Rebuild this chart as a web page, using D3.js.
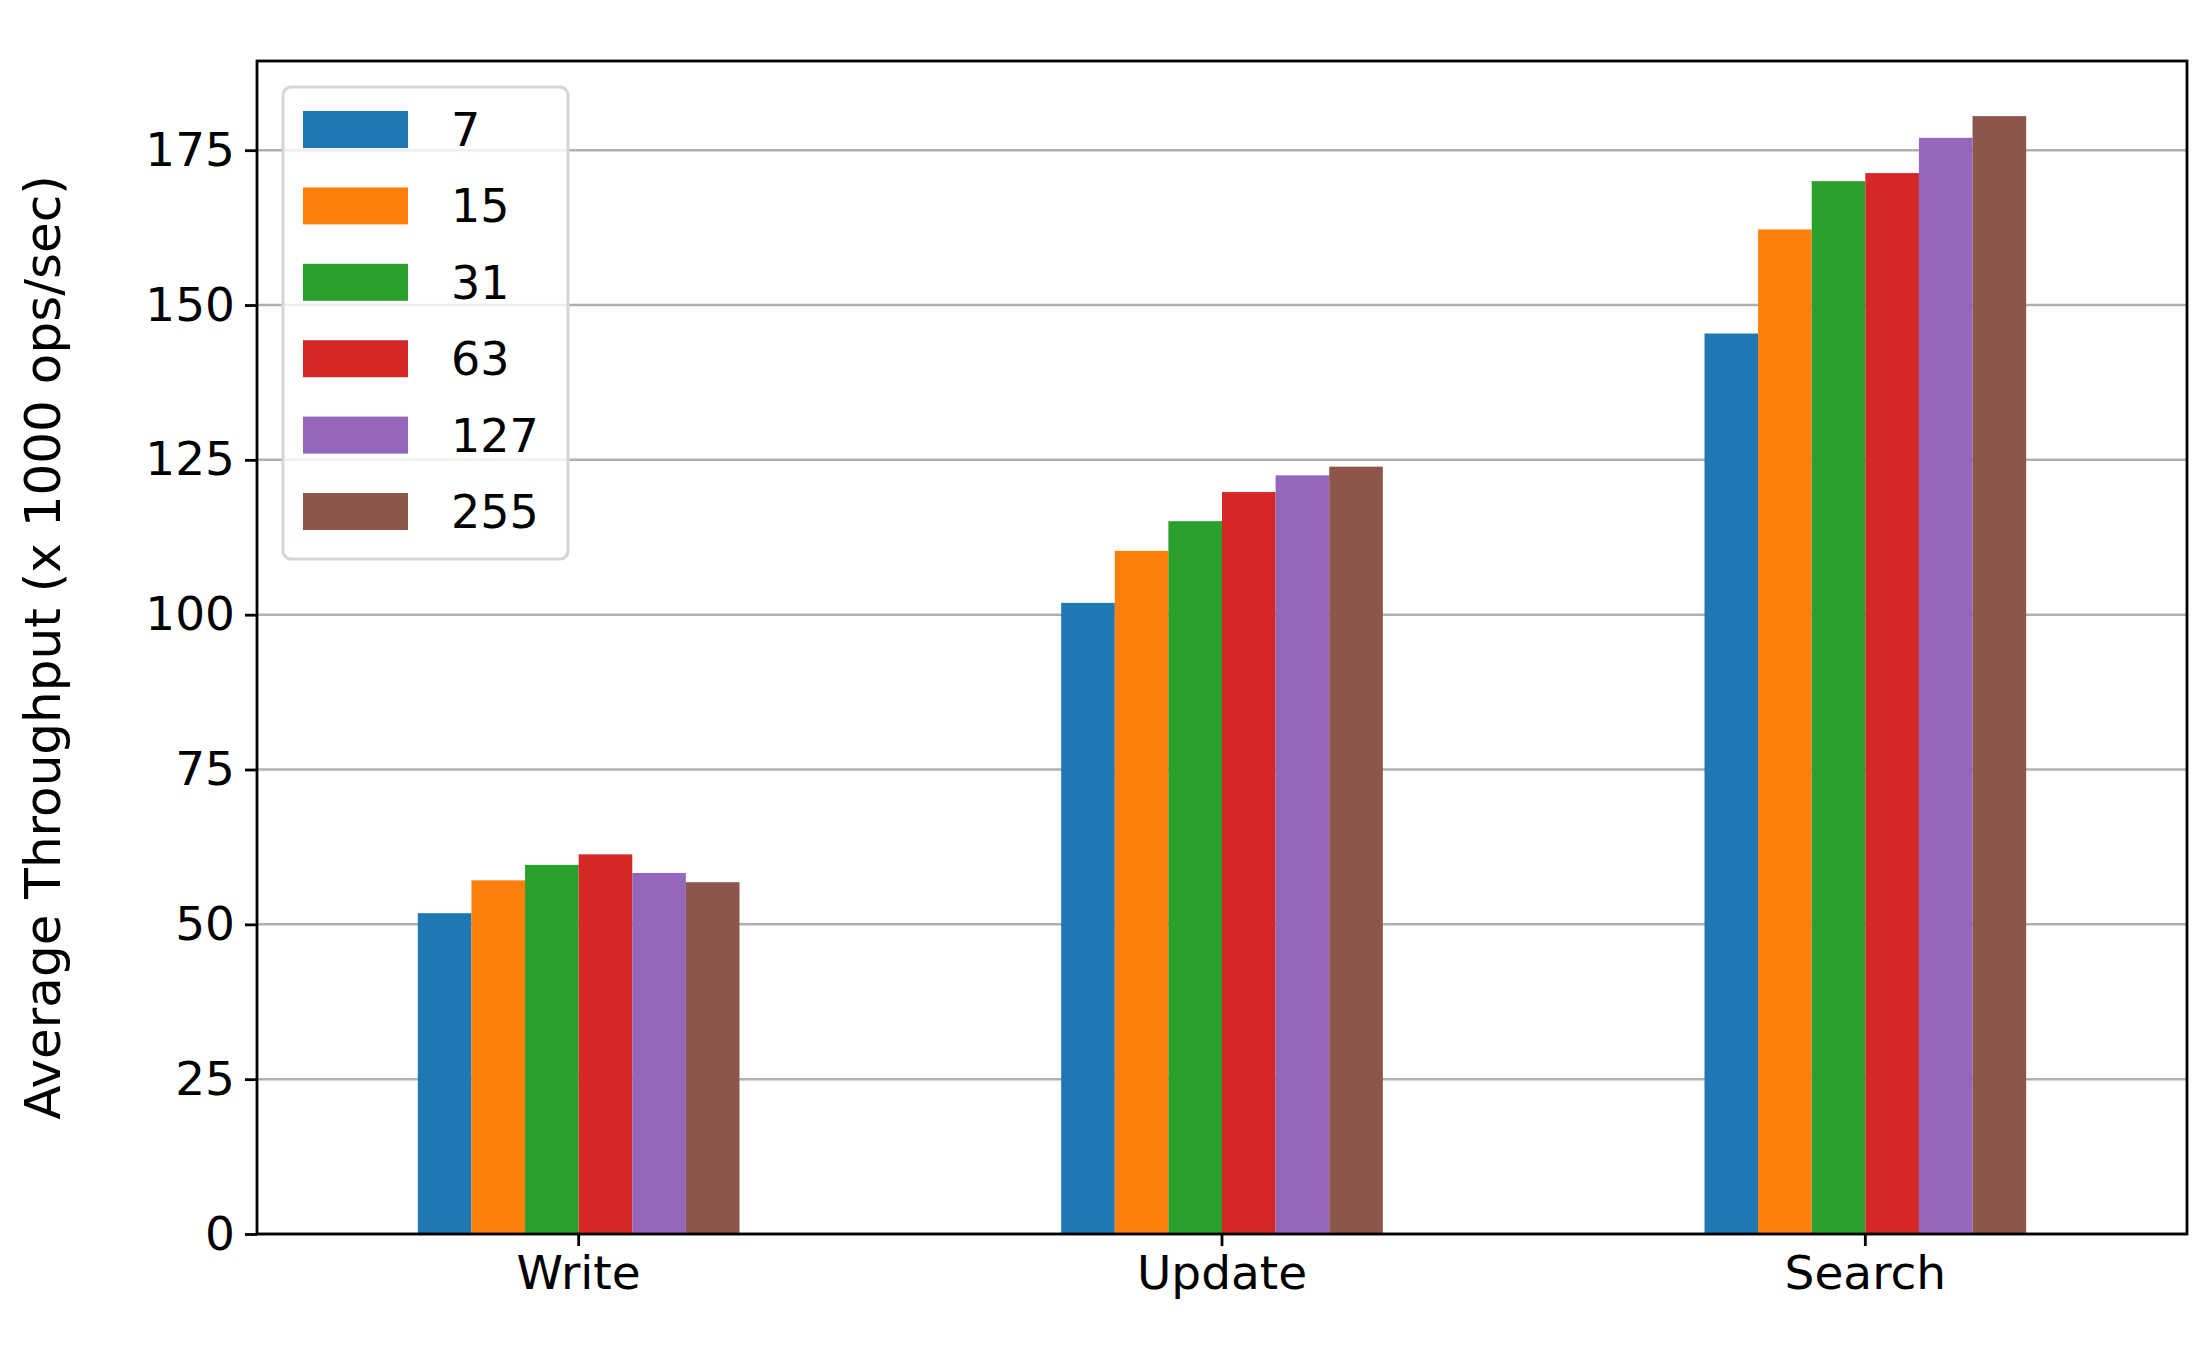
<!DOCTYPE html>
<html><head><meta charset="utf-8">
<script src="https://d3js.org/d3.v7.min.js"></script>
<style>body{margin:0;background:#fff}text{font-family:"DejaVu Sans",sans-serif}</style>
</head><body><svg></svg>
<script>
//data
var categories = ['Write', 'Update', 'Search'];
var seriesNames = ['7', '15', '31', '63', '127', '255'];
var colors = ['#1f77b4', '#ff7f0e', '#2ca02c', '#d62728', '#9467bd', '#8c564b'];
var values7 = [51.8, 101.9, 145.4];
var values15 = [57.1, 110.3, 162.2];
var values31 = [59.6, 115.1, 170.0];
var values63 = [61.3, 119.8, 171.3];
var values127 = [58.3, 122.5, 177.0];
var values255 = [56.8, 123.9, 180.5];
var series = [values7, values15, values31, values63, values127, values255];
var yTicks = [0, 25, 50, 75, 100, 125, 150, 175];

var W = 2211, H = 1346;
var margin = {top: 61, right: 24, bottom: 112, left: 257},
  width = W - margin.left - margin.right,
  height = H - margin.top - margin.bottom;

var svg = d3.select('svg').attr('width', W).attr('height', H)
  .append('g')
  .attr('transform', 'translate(' + margin.left + ',' + margin.top + ')');

var x = d3.scaleBand().range([0, width]).domain(categories).padding(0);
var y = d3.scaleLinear().range([height, 0]).domain([0, 189.4]);
var inner = d3.scaleBand().domain(seriesNames)
  .range([x.bandwidth() * 0.25, x.bandwidth() * 0.75]);

// grid
svg.append('g').selectAll('line').data(yTicks).enter().append('line')
  .attr('x1', 0).attr('x2', width)
  .attr('y1', function(d) { return y(d); }).attr('y2', function(d) { return y(d); })
  .style('stroke', '#b0b0b0').style('stroke-width', 2.5);

// bars
series.forEach(function(vals, si) {
  svg.append('g').selectAll('rect').data(vals).enter().append('rect')
    .attr('x', function(d, i) { return x(categories[i]) + inner(seriesNames[si]); })
    .attr('y', function(d) { return y(d); })
    .attr('width', inner.bandwidth())
    .attr('height', function(d) { return height - y(d); })
    .style('fill', colors[si]);
});

// axes
var xa = svg.append('g').attr('transform', 'translate(0,' + height + ')')
  .call(d3.axisBottom(x).tickSize(12).tickPadding(10));
var ya = svg.append('g')
  .call(d3.axisLeft(y).tickValues(yTicks).tickSize(12).tickPadding(10));
[xa, ya].forEach(function(a) {
  a.select('.domain').remove();
  a.selectAll('line').style('stroke-width', 2.8);
  a.selectAll('text').style('font-size', '47px').style('font-family', '"DejaVu Sans"');
});
svg.append('rect').attr('width', width).attr('height', height)
  .style('fill', 'none').style('stroke', '#000').style('stroke-width', 2.8);

// y label
svg.append('text')
  .attr('transform', 'translate(' + (-197) + ',' + (height / 2) + ') rotate(-90)')
  .style('text-anchor', 'middle').style('font-size', '50px')
  .text('Average Throughput (x 1000 ops/sec)');

// legend
var lg = svg.append('g').attr('transform', 'translate(26,26)');
lg.append('rect').attr('width', 285).attr('height', 472).attr('rx', 8)
  .style('fill', 'rgba(255,255,255,0.8)').style('stroke', '#d5d5d5').style('stroke-width', 3);
var item = lg.selectAll('.legend').data(seriesNames).enter().append('g')
  .attr('class', 'legend')
  .attr('transform', function(d, i) { return 'translate(20,' + (24 + i * 76.4) + ')'; });
item.append('rect').attr('width', 105).attr('height', 37)
  .style('fill', function(d, i) { return colors[i]; });
item.append('text').attr('x', 148).attr('y', 35).style('font-size', '46px')
  .text(function(d) { return d; });
</script></body></html>
